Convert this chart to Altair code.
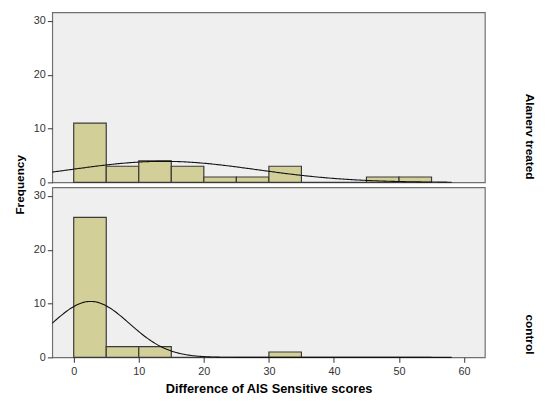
import altair as alt
import pandas as pd

# ---- data ----
bin_start = [0, 5, 10, 15, 20, 25, 30, 35, 40, 45, 50]
bin_width = 5
treated_counts = [11, 3, 4, 3, 1, 1, 3, 0, 0, 1, 1]
control_counts = [26, 2, 2, 0, 0, 0, 1, 0, 0, 0, 0]
x_ticks = [0, 10, 20, 30, 40, 50, 60]
y_ticks = [0, 10, 20, 30]
groups = ["Alanerv treated", "control"]
# fitted normal curve parameters (mean, sd, N)
fit_mean = [13.8, 2.6]
fit_sd = [14.3, 5.95]
fit_n = [28, 31]

FONT = "Liberation Sans"
W, H = 440, 173
X_DOM = [-3.3, 63.2]
Y_DOM = [0, 31.6]


def panel(counts, mean, sd, n, label, bottom):
    df = pd.DataFrame({
        "start": bin_start,
        "end": [b + bin_width for b in bin_start],
        "count": counts,
    })
    xaxis = alt.Axis(values=x_ticks, title="Difference of AIS Sensitive scores",
                     grid=False, domain=False, tickSize=5, tickColor="#333",
                     labelColor="#333", labelFontSize=11, labelFont=FONT,
                     titleFont=FONT, titleFontSize=13, titleFontWeight="bold",
                     titleColor="#000", labelPadding=3, titlePadding=7) if bottom else None
    xs = alt.Scale(domain=X_DOM, nice=False, zero=False)
    ys = alt.Scale(domain=Y_DOM, nice=False)
    yaxis = alt.Axis(values=y_ticks, title=None, grid=False, domain=False,
                     tickSize=5, tickColor="#333", labelColor="#333",
                     labelFontSize=11, labelFont=FONT, labelPadding=2)
    bars = alt.Chart(df).mark_rect(fill="#D3CF98", stroke="#3a3a3a",
                                   strokeWidth=1.2).encode(
        x=alt.X("start:Q", scale=xs, axis=xaxis),
        x2="end:Q",
        y=alt.Y("count:Q", scale=ys, axis=yaxis),
        y2=alt.datum(0),
    )
    curve = alt.Chart(alt.sequence(-3.3, 58.2, 0.2, as_="x")).transform_calculate(
        y=f"{n}*{bin_width}/({sd}*sqrt(2*PI))*exp(-0.5*pow((datum.x-{mean})/{sd},2))"
    ).mark_line(color="#111", strokeWidth=1.1).encode(
        x=alt.X("x:Q", scale=xs, axis=xaxis),
        y=alt.Y("y:Q", scale=ys, axis=yaxis),
    )
    lab = alt.Chart(pd.DataFrame({"t": [label]})).mark_text(
        angle=90, align="right", baseline="middle", fontWeight="bold",
        fontSize=12, font=FONT, color="#000"
    ).encode(x=alt.value(W + 46), y=alt.value(H - 3), text="t:N")
    layers = [bars, curve, lab]
    if not bottom:
        freq = alt.Chart(pd.DataFrame({"t": ["Frequency"]})).mark_text(
            angle=270, align="center", baseline="middle", fontWeight="bold",
            fontSize=12, font=FONT, color="#000"
        ).encode(x=alt.value(-33), y=alt.value(H + 2.5), text="t:N")
        layers.append(freq)
    return alt.layer(*layers).properties(width=W, height=H)


top = panel(treated_counts, fit_mean[0], fit_sd[0], fit_n[0], groups[0], False)
bot = panel(control_counts, fit_mean[1], fit_sd[1], fit_n[1], groups[1], True)

chart = alt.vconcat(top, bot, spacing=5, bounds="flush").properties(
    padding={"left": 5, "top": 0, "right": 0, "bottom": 0},
    background="white",
).configure_view(fill="#EFEFEF", stroke="#707070", strokeWidth=1.2)

chart.save("out.html", embed_options={"renderer": "svg", "actions": False})
